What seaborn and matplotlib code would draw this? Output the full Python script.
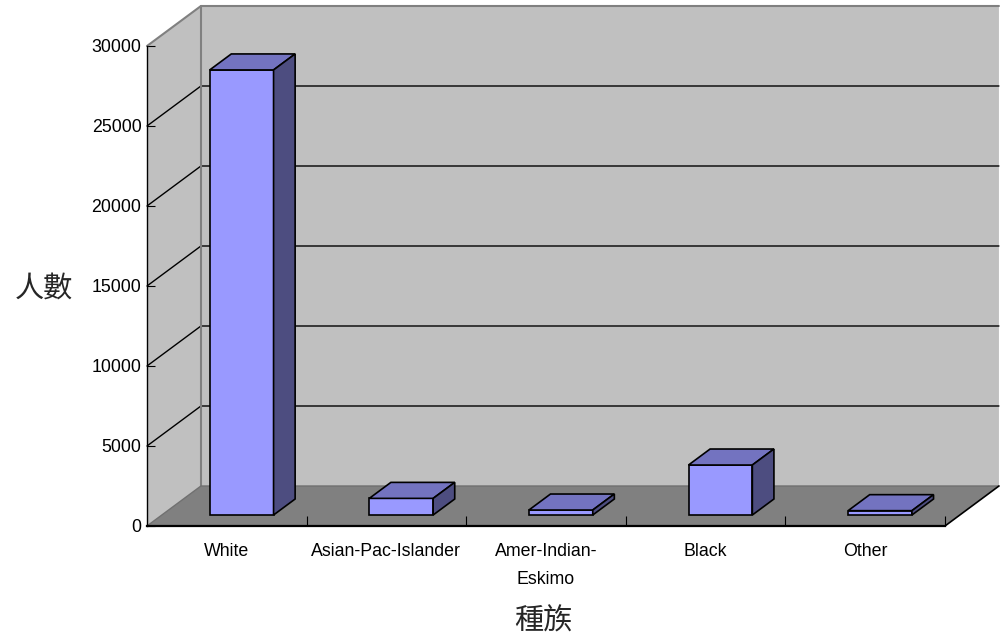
import pandas as pd
import numpy as np
import matplotlib
matplotlib.use('Agg')
import matplotlib.pyplot as plt
import seaborn as sns

# ── data ──
races = ['White', 'Asian-Pac-Islander', 'Amer-Indian-\nEskimo', 'Black', 'Other']
counts = [27816, 1039, 311, 3124, 271]
yticks = [0, 5000, 10000, 15000, 20000, 25000, 30000]

df = pd.DataFrame({'race': races, 'count': counts})

sns.set_style('white')
plt.rcParams['font.family'] = ['Liberation Sans', 'Noto Sans CJK TC', 'DejaVu Sans']

FRONT = '#9999FF'
TOP = '#7373C0'
SIDE = '#4D4D80'
WALL = '#C0C0C0'
FLOOR = '#808080'

fig = plt.figure(figsize=(10.01, 6.41), dpi=100)
fig.patch.set_facecolor('white')
ax = fig.add_axes([147 / 1001, (641 - 526) / 641, 798 / 1001, 480 / 641])
ax.set_facecolor('none')

sns.barplot(data=df, x='race', y='count', color=FRONT, width=0.4, saturation=1,
            edgecolor='black', linewidth=1.2, ax=ax, zorder=3)
bars = list(ax.patches)

ax.set_xlim(-0.5, 4.5)
ax.set_ylim(0, 30000)

# depth of the 3D box in data units
dx, dy = 0.338, 2500
x0, x1 = -0.5, 4.5
ytop = yticks[-1]

# walls and floor
ax.fill([x0, x0 + dx, x1 + dx, x1 + dx, x0 + dx, x0], [0, dy, dy, ytop + dy, ytop + dy, ytop],
        color=WALL, zorder=0, clip_on=False, lw=0)
ax.fill([x0, x1, x1 + dx, x0 + dx], [0, 0, dy, dy], color=FLOOR, zorder=0.5, clip_on=False, lw=0)

# gridlines on side and back wall
for v in yticks[1:-1]:
    ax.plot([x0, x0 + dx, x1 + dx], [v, v + dy, v + dy], color='black', lw=1.0,
            zorder=1, clip_on=False)
ax.plot([x0, x0 + dx, x1 + dx], [ytop, ytop + dy, ytop + dy], color='#808080', lw=1.5,
        zorder=1, clip_on=False)
ax.plot([x0 + dx, x0 + dx], [dy, ytop + dy], color='#808080', lw=1.5, zorder=1, clip_on=False)
ax.plot([x0, x0 + dx, x1 + dx], [0, dy, dy], color='#707070', lw=1, zorder=1, clip_on=False)
ax.plot([x1, x1 + dx], [0, dy], color='black', lw=1.2, zorder=2, clip_on=False)

# move bars into depth and add top + side faces
f0, bd = 0.275, 0.4
for p in bars:
    xl = p.get_x() + f0 * dx
    w = p.get_width()
    h = p.get_height()
    yb = f0 * dy
    p.set_xy((xl, yb))
    xr = xl + w
    yt = yb + h
    ax.fill([xl, xr, xr + bd * dx, xl + bd * dx], [yt, yt, yt + bd * dy, yt + bd * dy],
            facecolor=TOP, edgecolor='black', lw=1.2, zorder=3, clip_on=False)
    ax.fill([xr, xr + bd * dx, xr + bd * dx, xr], [yb, yb + bd * dy, yt + bd * dy, yt],
            facecolor=SIDE, edgecolor='black', lw=1.2, zorder=3, clip_on=False)

# axes styling
for s in ['top', 'right']:
    ax.spines[s].set_visible(False)
ax.spines['left'].set_color('black')
ax.spines['left'].set_linewidth(1)
ax.spines['bottom'].set_color('black')
ax.spines['bottom'].set_linewidth(1.6)
ax.spines['left'].set_zorder(2)
ax.spines['bottom'].set_zorder(2)

ax.set_yticks(yticks)
ax.set_yticklabels([str(v) for v in yticks])
ax.tick_params(axis='y', direction='in', length=6, width=0.8, pad=4, labelsize=12.8,
               colors='black', left=True)
ax.set_xticks(range(len(races)))
ax.set_xticklabels(races, linespacing=1.9)
ax.set_xticks(np.arange(0.5, 5, 1), minor=True)
ax.tick_params(axis='x', which='major', length=0, pad=12, labelsize=12.8, colors='black')
ax.tick_params(axis='x', which='minor', direction='in', length=7, width=0.8, color='black',
               bottom=True)

ax.set_ylabel('人數', rotation=0, fontsize=21, ha='center', va='center')
ax.yaxis.set_label_coords(-0.129, 0.495)
ax.set_xlabel('種族', fontsize=21, va='center')
ax.xaxis.set_label_coords(0.496, -0.198)

plt.savefig('out.png', dpi=100, facecolor='white')
plt.close()
